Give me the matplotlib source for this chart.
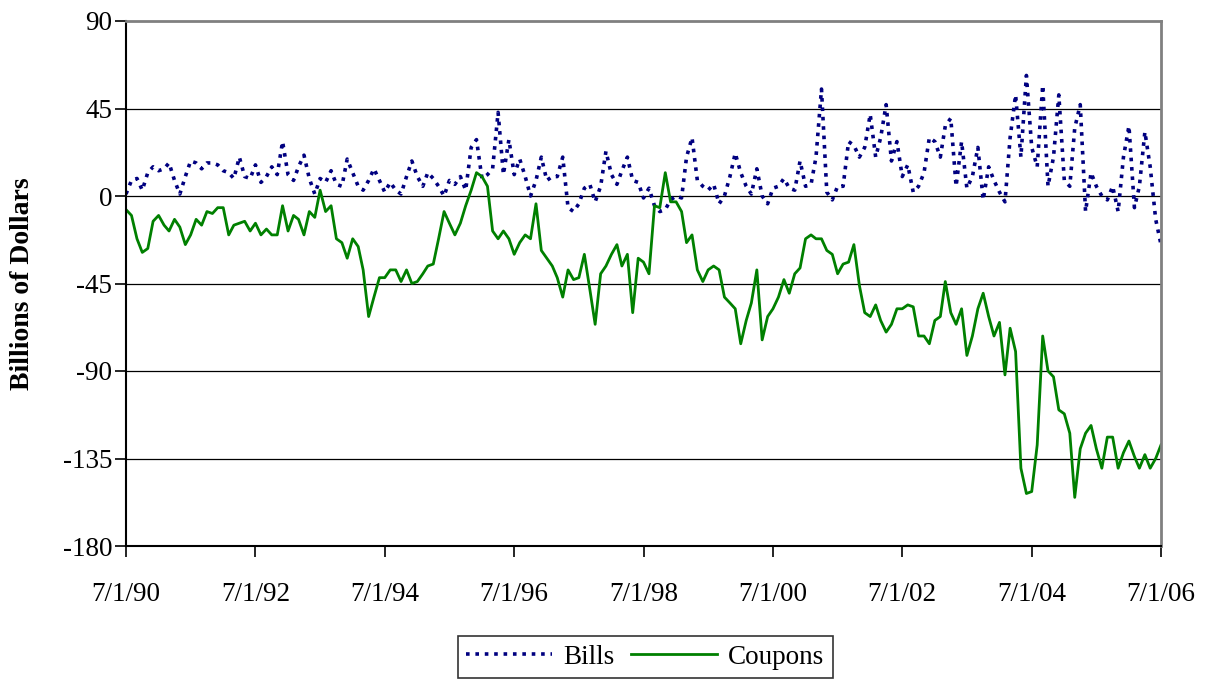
import numpy as np
import pandas as pd
import matplotlib
matplotlib.use('Agg')
import matplotlib.pyplot as plt
import matplotlib.dates as mdates

plt.rcParams['font.family'] = ['Liberation Serif', 'DejaVu Serif']

# monthly observations, 7/1/90 .. 7/1/06
dates = pd.date_range('1990-07-01', periods=193, freq='MS')

# Billions of dollars
bills = [
    1, 8, 9, 3, 12, 15, 13, 14, 17, 8, 1, 10, 18, 17, 14, 17,
    17, 16, 13, 12, 9, 20, 10, 9, 16, 7, 10, 15, 11, 28, 11, 8,
    15, 21, 9, 1, 9, 7, 13, 6, 5, 19, 12, 5, 3, 8, 14, 8,
    2, 7, 3, 1, 10, 18, 10, 5, 12, 9, 5, 0, 8, 6, 10, 3,
    25, 29, 9, 11, 14, 43, 11, 29, 11, 19, 10, 0, 8, 20, 8, 10,
    10, 20, -6, -8, -4, 4, 6, -3, 5, 23, 11, 6, 13, 20, 8, 7,
    -1, 4, -5, -8, -7, -2, 0, -1, 20, 30, 8, 5, 3, 6, -4, 0,
    10, 22, 12, 5, 1, 14, 0, -4, 4, 5, 9, 4, 3, 18, 5, 6,
    20, 55, 2, -2, 5, 5, 28, 26, 20, 25, 42, 20, 30, 47, 18, 28,
    10, 16, 2, 5, 12, 30, 28, 20, 36, 40, 5, 28, 4, 10, 25, -2,
    15, 8, 2, -3, 30, 52, 20, 62, 25, 15, 57, 5, 20, 52, 8, 5,
    35, 47, -8, 12, 5, 0, -2, 5, -8, 20, 36, -6, 5, 33, 15, -12, -25,
]

coupons = [
    -7, -10, -22, -29, -27, -13, -10, -15, -18, -12, -16, -25, -20, -12, -15, -8,
    -9, -6, -6, -20, -15, -14, -13, -18, -14, -20, -17, -20, -20, -5, -18, -10,
    -12, -20, -8, -11, 3, -8, -5, -22, -24, -32, -22, -26, -38, -62, -52, -42,
    -42, -38, -38, -44, -38, -45, -44, -40, -36, -35, -22, -8, -14, -20, -14, -5,
    3, 12, 10, 5, -18, -22, -18, -22, -30, -24, -20, -22, -4, -28, -32, -36,
    -42, -52, -38, -43, -42, -30, -48, -66, -40, -36, -30, -25, -36, -30, -60, -32,
    -34, -40, -5, -6, 12, -3, -3, -8, -24, -20, -38, -44, -38, -36, -38, -52,
    -55, -58, -76, -64, -55, -38, -74, -62, -58, -52, -43, -50, -40, -37, -22, -20,
    -22, -22, -28, -30, -40, -35, -34, -25, -46, -60, -62, -56, -64, -70, -66, -58,
    -58, -56, -57, -72, -72, -76, -64, -62, -44, -60, -66, -58, -82, -72, -58, -50,
    -62, -72, -65, -92, -68, -80, -140, -153, -152, -128, -72, -90, -93, -110, -112, -122,
    -155, -130, -122, -118, -130, -140, -124, -124, -140, -132, -126, -134, -140, -133, -140, -135, -128,
]

tick_years = list(range(1990, 2007, 2))
tick_labels = [f'7/1/{y % 100:02d}' for y in tick_years]
yticks = [90, 45, 0, -45, -90, -135, -180]

fig = plt.figure(figsize=(12.08, 6.79), dpi=100)
ax = fig.add_axes([126 / 1208, 1 - 546 / 679, (1161 - 126) / 1208, (546 - 21) / 679])

ax.plot(dates, bills, color='#000080', linewidth=2.6, linestyle=(0, (1, 1.6)),
        label='Bills')
ax.plot(dates, coupons, color='#008000', linewidth=2, label='Coupons')

for v in yticks[1:-1]:
    ax.axhline(v, color='black', linewidth=0.9, zorder=0)

ax.set_ylim(-180, 90)
ax.set_yticks(yticks)
ax.set_yticklabels([str(v) for v in yticks])
ax.set_xlim(pd.Timestamp('1990-07-01'), pd.Timestamp('2006-07-01'))
ax.set_xticks([pd.Timestamp(f'{y}-07-01') for y in tick_years])
ax.set_xticklabels(tick_labels)

ax.tick_params(axis='both', labelsize=19.5, direction='out', length=8, width=1.2)
ax.tick_params(axis='x', pad=18)
ax.tick_params(axis='y', pad=2)

for s in ['top', 'right']:
    ax.spines[s].set_color('#808080')
    ax.spines[s].set_linewidth(2)
for s in ['left', 'bottom']:
    ax.spines[s].set_color('black')
    ax.spines[s].set_linewidth(1.5)

ax.set_ylabel('Billions of Dollars', fontsize=20, fontweight='bold', labelpad=20)

leg = fig.legend(loc='center', bbox_to_anchor=(645 / 1208, 1 - 657 / 679),
                 ncol=2, fontsize=19.5, frameon=True, fancybox=False,
                 edgecolor='black', handlelength=3.2, columnspacing=0.6,
                 handletextpad=0.4, borderpad=0.3)
leg.get_frame().set_linewidth(1.2)

fig.savefig('out.png', dpi=100)
